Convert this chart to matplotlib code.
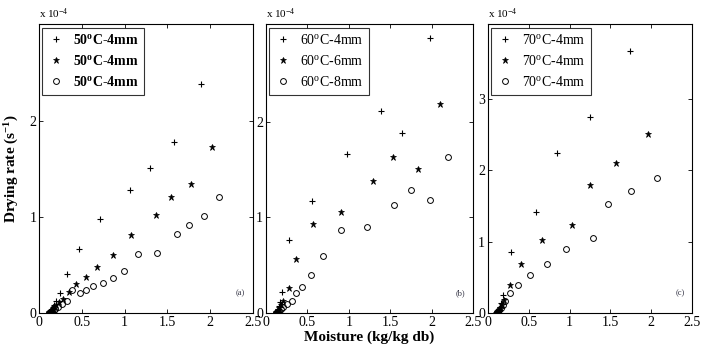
import matplotlib
matplotlib.use("Agg")
import matplotlib.pyplot as plt

plt.rcParams['font.family'] = ['Liberation Serif', 'DejaVu Serif']
plt.rcParams['mathtext.fontset'] = 'custom'
plt.rcParams['mathtext.rm'] = 'Liberation Serif'
plt.rcParams['mathtext.it'] = 'Liberation Serif:italic'
plt.rcParams['mathtext.bf'] = 'Liberation Serif:bold'

# ---------------- data (x: moisture kg/kg db, y: drying rate x1e-4 s^-1) -------------
# Panel (a)
a_plus_x = [1.893, 1.575, 1.30, 1.065, 0.71, 0.467, 0.323, 0.245, 0.20, 0.175, 0.16, 0.15, 0.14, 0.13, 0.125, 0.12, 0.115]
a_plus_y = [2.39, 1.785, 1.51, 1.28, 0.98, 0.667, 0.406, 0.208, 0.12, 0.08, 0.06, 0.04, 0.03, 0.02, 0.012, 0.006, 0.002]
a_star_x = [2.02, 1.77, 1.547, 1.37, 1.077, 0.86, 0.68, 0.548, 0.428, 0.346, 0.28, 0.23, 0.2, 0.18, 0.165, 0.15, 0.14, 0.13, 0.12, 0.115]
a_star_y = [1.73, 1.35, 1.21, 1.02, 0.81, 0.60, 0.48, 0.37, 0.305, 0.215, 0.15, 0.11, 0.08, 0.06, 0.045, 0.03, 0.02, 0.012, 0.006, 0.002]
a_circ_x = [2.107, 1.93, 1.757, 1.61, 1.38, 1.155, 0.995, 0.86, 0.746, 0.634, 0.548, 0.478, 0.385, 0.33, 0.27, 0.22, 0.19, 0.17, 0.155, 0.14, 0.13, 0.12]
a_circ_y = [1.21, 1.01, 0.917, 0.82, 0.625, 0.618, 0.44, 0.36, 0.316, 0.28, 0.236, 0.208, 0.243, 0.128, 0.09, 0.06, 0.045, 0.03, 0.02, 0.012, 0.006, 0.002]

# Panel (b)
b_plus_x = [1.98, 1.39, 1.64, 0.984, 0.552, 0.28, 0.192, 0.17, 0.155, 0.145, 0.135, 0.125, 0.12]
b_plus_y = [2.875, 2.11, 1.88, 1.66, 1.17, 0.767, 0.223, 0.12, 0.07, 0.04, 0.02, 0.01, 0.003]
b_star_x = [2.104, 1.536, 1.832, 1.288, 0.904, 0.572, 0.364, 0.272, 0.21, 0.18, 0.16, 0.145, 0.135, 0.125, 0.12]
b_star_y = [2.185, 1.627, 1.509, 1.383, 1.052, 0.927, 0.561, 0.258, 0.13, 0.08, 0.05, 0.03, 0.015, 0.007, 0.002]
b_circ_x = [2.2, 1.984, 1.756, 1.548, 1.22, 0.908, 0.684, 0.54, 0.436, 0.36, 0.308, 0.25, 0.21, 0.18, 0.16, 0.145, 0.135, 0.125]
b_circ_y = [1.63, 1.178, 1.289, 1.125, 0.899, 0.871, 0.599, 0.40, 0.272, 0.213, 0.129, 0.09, 0.06, 0.04, 0.025, 0.015, 0.007, 0.002]

# Panel (c)
c_plus_x = [1.746, 1.254, 0.848, 0.594, 0.283, 0.184, 0.16, 0.145, 0.13, 0.12, 0.11, 0.1]
c_plus_y = [3.666, 2.739, 2.236, 1.407, 0.852, 0.252, 0.14, 0.08, 0.04, 0.02, 0.01, 0.003]
c_star_x = [1.955, 1.566, 1.246, 1.025, 0.66, 0.406, 0.266, 0.2, 0.17, 0.15, 0.135, 0.12, 0.11, 0.1]
c_star_y = [2.506, 2.10, 1.798, 1.225, 1.015, 0.689, 0.387, 0.18, 0.11, 0.07, 0.04, 0.02, 0.01, 0.003]
c_circ_x = [2.066, 1.754, 1.475, 1.291, 0.959, 0.717, 0.512, 0.369, 0.275, 0.213, 0.18, 0.16, 0.14, 0.125, 0.115, 0.105]
c_circ_y = [1.886, 1.714, 1.528, 1.043, 0.894, 0.685, 0.531, 0.387, 0.275, 0.172, 0.11, 0.07, 0.04, 0.02, 0.01, 0.003]

labels_a = ["50$^\\mathbf{o}$C-4mm", "50$^\\mathbf{o}$C-4mm", "50$^\\mathbf{o}$C-4mm"]
labels_b = ["60$^\\mathrm{o}$C-4mm", "60$^\\mathrm{o}$C-6mm", "60$^\\mathrm{o}$C-8mm"]
labels_c = ["70$^\\mathrm{o}$C-4mm", "70$^\\mathrm{o}$C-4mm", "70$^\\mathrm{o}$C-4mm"]
panel_tags = ["(a)", "(b)", "(c)"]
xticks = [0, 0.5, 1, 1.5, 2, 2.5]
xtick_labels = ["0", "0.5", "1", "1.5", "2", "2.5"]

fig = plt.figure(figsize=(7.12, 3.49), dpi=100)
positions = [
    [0.0548, 0.1032, 0.3006, 0.8272],
    [0.3736, 0.1032, 0.2907, 0.8272],
    [0.6854, 0.1032, 0.2865, 0.8272],
]
panels = [
    (a_plus_x, a_plus_y, a_star_x, a_star_y, a_circ_x, a_circ_y, labels_a, 3.01, [0, 1, 2], 'bold'),
    (b_plus_x, b_plus_y, b_star_x, b_star_y, b_circ_x, b_circ_y, labels_b, 3.02, [0, 1, 2], 'normal'),
    (c_plus_x, c_plus_y, c_star_x, c_star_y, c_circ_x, c_circ_y, labels_c, 4.04, [0, 1, 2, 3], 'normal'),
]

for i, (pos, p) in enumerate(zip(positions, panels)):
    px, py, sx, sy, cx, cy, labs, ytop, yt, lw = p
    ax = fig.add_axes(pos)
    ax.plot(px, py, linestyle='none', marker='+', color='black', markersize=5, markeredgewidth=0.8, label=labs[0])
    ax.plot(sx, sy, linestyle='none', marker='*', color='black', markersize=5, markeredgewidth=0.5, label=labs[1])
    ax.plot(cx, cy, linestyle='none', marker='o', markerfacecolor='none', markeredgecolor='black',
            markersize=4.2, markeredgewidth=0.7, label=labs[2])
    ax.set_xlim(0, 2.5)
    ax.set_ylim(0, ytop)
    ax.set_xticks(xticks)
    ax.set_xticklabels(xtick_labels)
    ax.set_yticks(yt)
    ax.set_yticklabels([str(v) for v in yt])
    ax.tick_params(direction='in', top=True, right=True, length=3, width=0.6, labelsize=10, pad=2)
    for s in ax.spines.values():
        s.set_linewidth(0.8)
    leg = ax.legend(loc='upper left', frameon=True, fancybox=False, edgecolor='black',
                    prop={'size': 10, 'weight': lw}, handletextpad=0.6, borderpad=0.4,
                    labelspacing=0.5, handlelength=1.2, borderaxespad=0.25)
    leg.get_frame().set_linewidth(0.8)
    ax.text(0.0, 1.01, "x 10$^{-4}$", transform=ax.transAxes, fontsize=8, ha='left', va='bottom')
    ax.text(0.94, 0.07, panel_tags[i], transform=ax.transAxes, fontsize=6, ha='center', va='center',
            color='#333344')
    if i == 0:
        ax.set_ylabel("Drying rate (s$^\\mathbf{-1}$)", fontsize=11, fontweight='bold', labelpad=6)
    if i == 1:
        ax.set_xlabel("Moisture (kg/kg db)", fontsize=11, fontweight='bold', labelpad=1)

fig.savefig("out.png", dpi=100)
